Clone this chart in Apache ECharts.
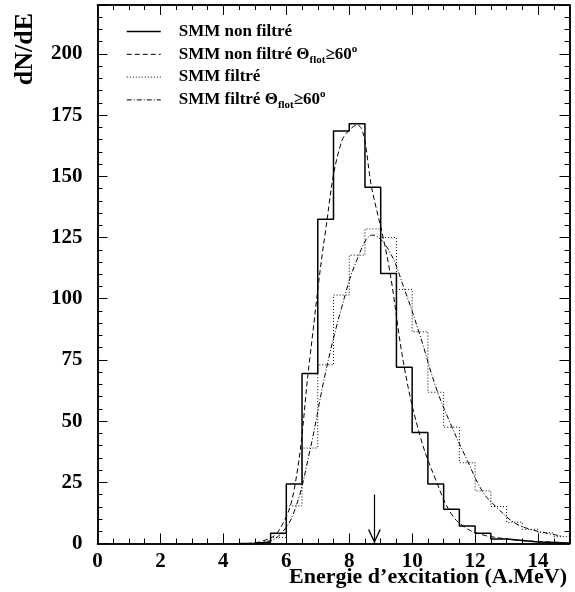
<!DOCTYPE html>
<html><head><meta charset="utf-8">
<script src="https://cdn.jsdelivr.net/npm/echarts@6/dist/echarts.min.js"></script>
<style>html,body{margin:0;padding:0;background:#fff}#c{width:575px;height:592px}</style>
</head><body><div id="c"></div>
<script>
// Histogram bin edges (lower edges, plus the final upper edge)
const binEdges = [4.5,5.0,5.5,6.0,6.5,7.0,7.5,8.0,8.5,9.0,9.5,10.0,10.5,11.0,11.5,12.0,12.5,13.0,13.5,14.0,14.5,15.0];
// SMM non filtré (solid histogram)
const smmNonFiltre = [0,0.6,4.2,24.3,69.5,132.5,168.5,171.5,145.5,110.3,72,45.3,24.3,14,7.2,4.2,1.8,1.2,0.6,0.4,0.2];
// SMM filtré (dotted histogram)
const smmFiltre = [0,0.4,2.5,15.4,39,73,101.5,117.8,128.5,125,103.8,86.5,61.8,47.5,33,21.5,15.1,8.7,5.8,4.4,2.8];
// Bin centres for the smooth curves
const binCenters = [4.75,5.25,5.75,6.25,6.75,7.25,7.75,8.25,8.75,9.25,9.75,10.25,10.75,11.25,11.75,12.25,12.75,13.25,13.75,14.25,14.75];
// SMM non filtré Θflot≥60° (dashed curve)
const smmNonFiltre60 = [0,1,5,22,76,128,164,171,143,114,72,44,26,12,6,3.5,2.3,1.5,1,0.7,0.4];
// SMM filtré Θflot≥60° (dash-dot curve)
const smmFiltre60 = [0,0.5,3,13,38,70,96,116,126,120,104,85,64,48,34,21,14,8.5,5.8,4.3,3];
// Arrow marker (x position, top value, bottom value)
const arrowX = [8.8, 8.8];
const arrowY = [20, 0];
// Axis ranges / ticks
const xRange = [0, 15];
const yRange = [0, 220];
const xMajor = 2, xMinor = 0.5;
const yMajor = 25, yMinor = 5;
const legendNames = ['SMM non filtré','SMM non filtré Θ60','SMM filtré','SMM filtré Θ60'];

const FONT = '"Liberation Serif", "Times New Roman", serif';
const chart = echarts.init(document.getElementById('c'), null, {renderer:'canvas'});

function histData(vals){
  const d = vals.map((v,i)=>[binEdges[i], v]);
  d.push([binEdges[binEdges.length-1], vals[vals.length-1]]);
  return d;
}
function curveData(vals){ return binCenters.map((x,i)=>[x, vals[i]]); }

const axisLineStyle = {show:true, onZero:false, lineStyle:{color:'#000', width:1.5}};
function xAx(pos, interval, len, labels){
  return {type:'value', position:pos, min:xRange[0], max:xRange[1], interval:interval,
    axisLine:axisLineStyle, splitLine:{show:false},
    axisTick:{show:true, inside:true, length:len, lineStyle:{color:'#000', width:1}},
    axisLabel:{show:labels, margin:8, color:'#000', fontFamily:FONT, fontWeight:'bold', fontSize:21,
      formatter:function(v){ return v > 14 ? '' : String(v); }}};
}
function yAx(pos, interval, len, labels){
  return {type:'value', position:pos, min:yRange[0], max:yRange[1], interval:interval,
    axisLine:axisLineStyle, splitLine:{show:false},
    axisTick:{show:true, inside:true, length:len, lineStyle:{color:'#000', width:1}},
    axisLabel:{show:labels, margin:15, color:'#000', fontFamily:FONT, fontWeight:'bold', fontSize:21,
      formatter:function(v){ return v > 200 ? '' : String(v); }}};
}

const legendFmt = {
  'SMM non filtré': '{g|}{m|SMM non filtré}',
  'SMM non filtré Θ60': '{g|}{m|SMM non filtré Θ}{sub|flot}{m|≥60}{sup|o}',
  'SMM filtré': '{g|}{m|SMM filtré}',
  'SMM filtré Θ60': '{g|}{m|SMM filtré Θ}{sub|flot}{m|≥60}{sup|o}'
};
const dashes = {
  'SMM non filtré': 'solid',
  'SMM non filtré Θ60': [5,3],
  'SMM filtré': [1,2],
  'SMM filtré Θ60': [5,2,1,2]
};
const widths = {'SMM non filtré':1.5,'SMM non filtré Θ60':1,'SMM filtré':1,'SMM filtré Θ60':1};

const option = {
  animation:false,
  backgroundColor:'#fff',
  grid:{left:97.5, right:5.5, top:5, bottom:48.5, containLabel:false, outerBoundsMode:'none'},
  xAxis:[xAx('bottom', xMinor, 5, false), xAx('bottom', xMajor, 10, true), xAx('top', xMinor, 5, false), xAx('top', xMajor, 10, false)],
  yAxis:[yAx('left', yMinor, 5, false), yAx('left', yMajor, 10, true), yAx('right', yMinor, 5, false), yAx('right', yMajor, 10, false)],
  legend:{
    orient:'vertical', left:126, top:23, padding:0, itemGap:3.3, itemWidth:34, itemHeight:14,
    selectedMode:false,
    data: legendNames.map(n=>({name:n,
      lineStyle:{type:dashes[n], width:widths[n], color:'#000'},
      itemStyle:{color:'rgba(0,0,0,0)', opacity:0, borderWidth:0}})),
    formatter:function(n){ return legendFmt[n]; },
    textStyle:{color:'#000', fontFamily:FONT, fontWeight:'bold', fontSize:17,
      rich:{
        g:{width:13},
        m:{fontFamily:FONT, fontWeight:'bold', fontSize:17, lineHeight:22, color:'#000'},
        sub:{fontFamily:FONT, fontWeight:'bold', fontSize:11, lineHeight:11, verticalAlign:'bottom', color:'#000'},
        sup:{fontFamily:FONT, fontWeight:'bold', fontSize:11, lineHeight:11, verticalAlign:'top', color:'#000'}
      }}
  },
  graphic:[
    {type:'text', x:25, y:49, rotation:Math.PI/2,
      style:{text:'dN/dE', font:'bold 26px '+FONT, fill:'#000', align:'center', verticalAlign:'middle'}},
    {type:'text', x:567, y:577,
      style:{text:'Energie d\u2019excitation (A.MeV)', font:'bold 22px '+FONT, fill:'#000', align:'right', verticalAlign:'middle'}}
  ],
  series:[
    {name:'SMM non filtré', type:'line', xAxisIndex:1, yAxisIndex:1, step:'end', symbol:'none',
      data:histData(smmNonFiltre), lineStyle:{color:'#000', width:1.5, type:'solid'}, itemStyle:{color:'#000'},
      silent:true,
      markLine:{silent:true, symbol:['none','path://M0,12 L6,0 L12,12 L10.6,12 L6,2.6 L1.4,12 Z M6,-12 L6.01,-12 L6,-11.99 Z'], symbolSize:[13,28],
        label:{show:false}, lineStyle:{color:'#000', width:1.2, type:'solid'},
        data:[[{coord:[arrowX[0], arrowY[0]]},{coord:[arrowX[1], arrowY[1]]}]]}},
    {name:'SMM non filtré Θ60', type:'line', xAxisIndex:1, yAxisIndex:1, smooth:0.4, symbol:'none',
      data:curveData(smmNonFiltre60), lineStyle:{color:'#000', width:1, type:[5,3]}, itemStyle:{color:'#000'}, silent:true},
    {name:'SMM filtré', type:'line', xAxisIndex:1, yAxisIndex:1, step:'end', symbol:'none',
      data:histData(smmFiltre), lineStyle:{color:'#000', width:1, type:[1,2]}, itemStyle:{color:'#000'}, silent:true},
    {name:'SMM filtré Θ60', type:'line', xAxisIndex:1, yAxisIndex:1, smooth:0.4, symbol:'none',
      data:curveData(smmFiltre60), lineStyle:{color:'#000', width:1, type:[5,2,1,2]}, itemStyle:{color:'#000'}, silent:true}
  ]
};
chart.setOption(option);
</script>
</body></html>
